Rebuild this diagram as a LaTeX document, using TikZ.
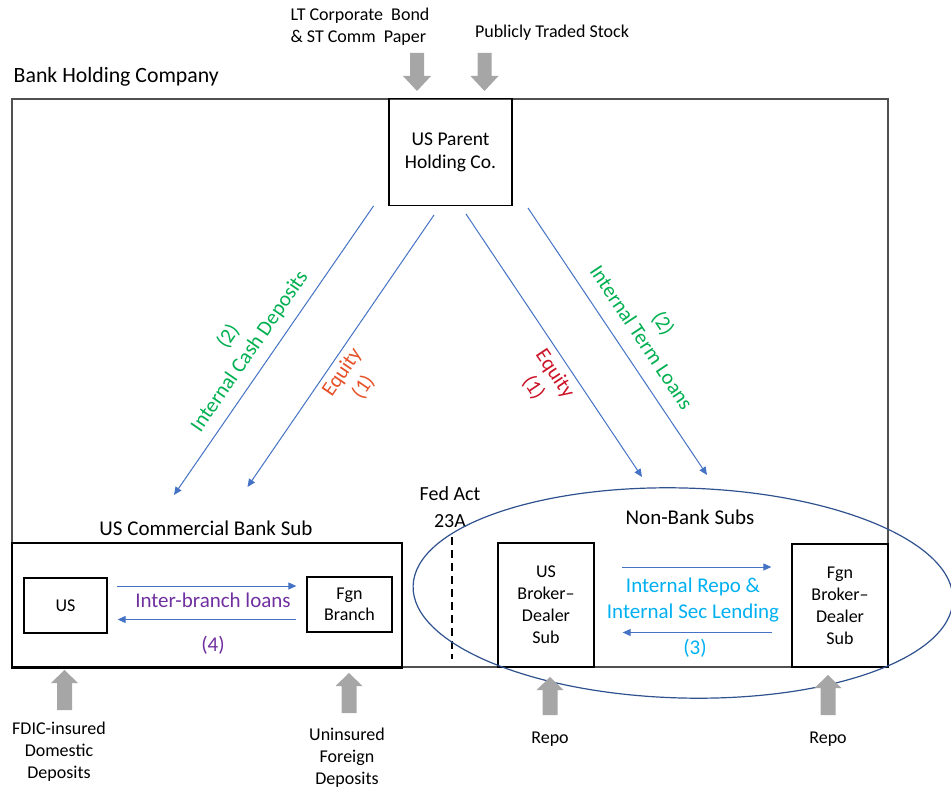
\documentclass[tikz,border=0pt]{standalone}
\usepackage{fontspec}
\setmainfont{Carlito}
\usetikzlibrary{arrows.meta,shapes.geometric}
\definecolor{bline}{RGB}{68,114,196}
\definecolor{gfill}{RGB}{166,166,166}
\definecolor{ggreen}{RGB}{0,176,80}
\definecolor{eqleft}{RGB}{230,80,40}
\definecolor{eqright}{RGB}{204,20,40}
\definecolor{purp}{RGB}{112,48,160}
\definecolor{cyanc}{RGB}{0,176,240}
\definecolor{ellc}{RGB}{47,82,143}
\definecolor{framec}{RGB}{80,80,80}
\newcommand\garrowdown[3]{\fill[gfill] (#1-7,#2) -- (#1+7,#2) -- (#1+7,#3-15) -- (#1+14,#3-15) -- (#1,#3) -- (#1-14,#3-15) -- (#1-7,#3-15) -- cycle;}
\newcommand\garrowup[3]{\fill[gfill] (#1-7.5,#2) -- (#1+7.5,#2) -- (#1+7.5,#3+13) -- (#1+13.5,#3+13) -- (#1,#3) -- (#1-13.5,#3+13) -- (#1-7.5,#3+13) -- cycle;}
\begin{document}
\begin{tikzpicture}[x=1pt,y=-1pt,
  small/.style={font=\fontsize{18}{22}\selectfont, align=center, inner sep=0pt},
  boxtxt/.style={font=\fontsize{19.5}{23}\selectfont, align=center, inner sep=0pt},
  big/.style={font=\fontsize{21}{26}\selectfont, align=center, inner sep=0pt},
  box/.style={draw=black, line width=1.3pt, inner sep=0pt},
  flow/.style={draw=bline, line width=1pt, -{Triangle[length=8pt,width=7pt]}},
  rotlab/.style={font=\fontsize{21}{26}\selectfont, align=center, inner sep=0pt}
]
\useasboundingbox (0,0) rectangle (951,789);

% outer box
\node[small, font=\fontsize{21.8}{26}\selectfont, anchor=west] (bhclabel) at (13.5,77) {Bank Holding Company};
\node[draw=framec, line width=1.8pt, minimum width=876pt, minimum height=568pt, inner sep=0pt] (bhc) at (450,383) {};

% parent
\node[box, boxtxt, minimum width=123pt, minimum height=107pt] (parent) at (450.5,152) {US Parent\\Holding Co.};
\node[small, align=left] (ltb) at (360,27) {LT Corporate~ Bond\\\& ST Comm~ Paper};
\node[small] (pts) at (552,33) {Publicly Traded Stock};
\garrowdown{417}{53}{91}
\garrowdown{484.5}{53}{91}

% blue flows from parent
\coordinate (a1s) at (373.5,206); \coordinate (a1e) at (174,495);
\coordinate (a2s) at (434,215);   \coordinate (a2e) at (247.5,487);
\coordinate (a3s) at (466,214);   \coordinate (a3e) at (642,477);
\coordinate (a4s) at (528,208);   \coordinate (a4e) at (707,475);
\draw[flow] (a1s) -- (a1e);
\draw[flow] (a2s) -- (a2e);
\draw[flow] (a3s) -- (a3e);
\draw[flow] (a4s) -- (a4e);
\node[rotlab, text=ggreen, rotate=55.4] (l1) at (239,344) {(2)\\Internal Cash Deposits};
\node[rotlab, text=eqleft, rotate=55.6] (l2) at (353,380) {Equity\\(1)};
\node[rotlab, text=eqright, rotate=-56.3] (l3) at (544,381) {Equity\\(1)};
\node[rotlab, text=ggreen, rotate=-56.3] (l4) at (653,330) {(2)\\Internal Term Loans};

% commercial bank sub
\node[big] (cbl) at (206,528) {US Commercial Bank Sub};
\node[draw=black, line width=1.3pt, minimum width=390pt, minimum height=124pt, inner sep=0pt] (cbank) at (207,605) {};
\draw[line width=2.5pt] (cbank.south west) -- (cbank.south east);
\node[box, small, minimum width=83pt, minimum height=55pt] (usb) at (65.5,605.5) {US};
\node[box, small, font=\fontsize{18}{21}\selectfont, minimum width=85pt, minimum height=55pt] (fgb) at (349.5,604.5) {Fgn\\Branch};
\coordinate (ib1) at (0,586); \coordinate (ib2) at (0,619.5);
\draw[flow, shorten <=9pt, shorten >=10pt] (usb.east |- ib1) -- (fgb.west |- ib1);
\draw[flow, shorten <=10pt, shorten >=10pt] (fgb.west |- ib2) -- (usb.east |- ib2);
\node[big, text=purp] (ibl) at (213,600) {Inter-branch loans};
\node[big, text=purp] (ib4) at (213,645) {(4)};

% Fed Act
\node[big, font=\fontsize{20}{27}\selectfont] (fed) at (450,507) {Fed Act\\23A};
\coordinate (d1) at (452,537); \coordinate (d2) at (452,659);
\draw[line width=2.5pt, dash pattern=on 8pt off 5pt] (d1) -- (d2);

% non-bank subs
\node[big] (nbl) at (690,517) {Non-Bank Subs};
\node[box, small, minimum width=96pt, minimum height=124pt] (usbd) at (546,605) {US\\Broker--\\Dealer\\Sub};
\node[box, small, minimum width=96pt, minimum height=123pt] (fgbd) at (840,605.5) {Fgn\\Broker--\\Dealer\\Sub};
\coordinate (r1) at (0,567); \coordinate (r2) at (0,632.5);
\draw[flow, shorten <=27pt, shorten >=20pt] (usbd.east |- r1) -- (fgbd.west |- r1);
\draw[flow, shorten <=19pt, shorten >=28pt] (fgbd.west |- r2) -- (usbd.east |- r2);
\node[big, text=cyanc] (repol) at (693,600.5) {Internal Repo \&\\Internal Sec Lending};
\node[big, text=cyanc] (rep3) at (695,648) {(3)};
\draw[ellc, line width=1.2pt, rotate around={-1.5:(683,593)}] (683,593) ellipse [x radius=270, y radius=105];

% bottom inputs
\garrowup{64.5}{710}{670}
\garrowup{349}{713}{673}
\garrowup{550}{715}{677}
\garrowup{828}{715}{675}
\node[small] (fdic) at (59,752) {FDIC-insured\\Domestic\\Deposits};
\node[small] (unins) at (347,758) {Uninsured\\Foreign\\Deposits};
\node[small] (repo1) at (550,739) {Repo};
\node[small] (repo2) at (828,739) {Repo};
\end{tikzpicture}
\end{document}
